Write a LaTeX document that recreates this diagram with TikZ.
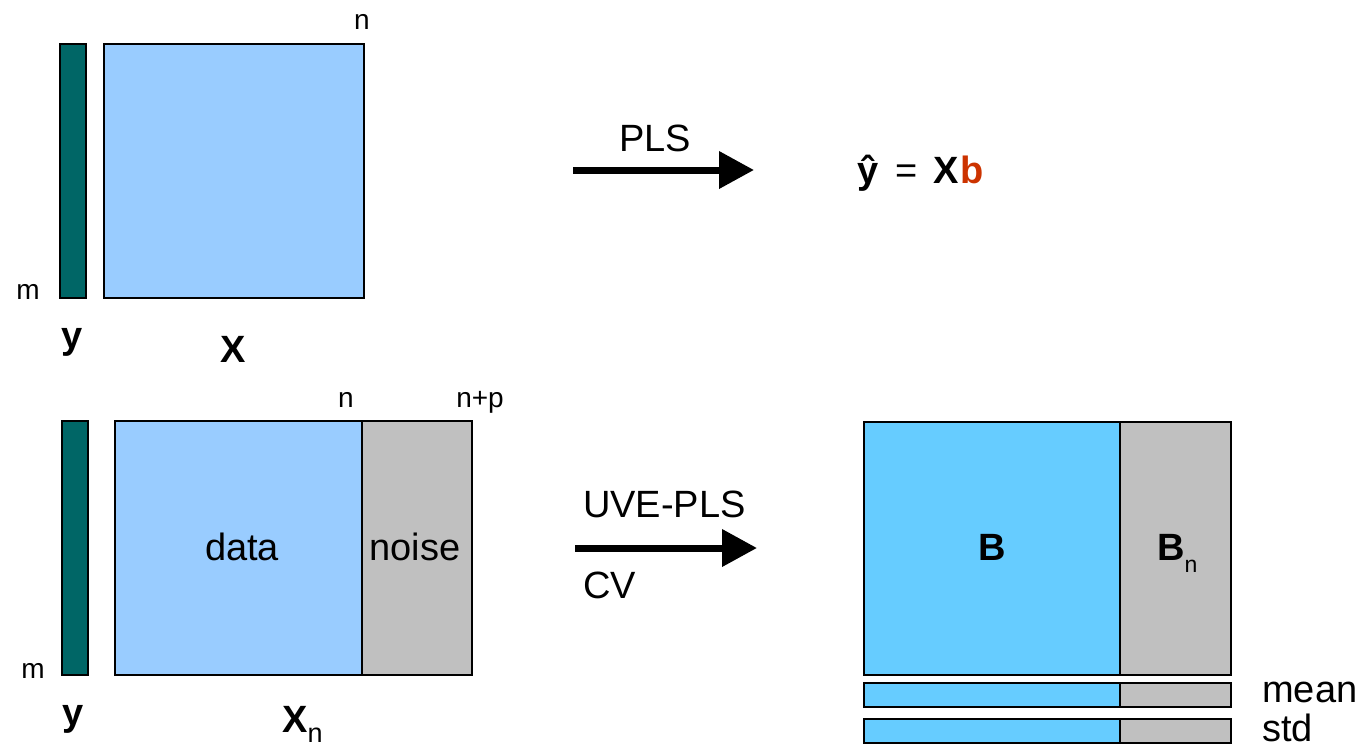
\documentclass[tikz,border=0pt]{standalone}
\usepackage{fontspec}
\setmainfont{Liberation Sans}
\usetikzlibrary{arrows.meta}
\definecolor{teal}{HTML}{006666}
\definecolor{lblue}{HTML}{99CCFF}
\definecolor{bblue}{HTML}{66CCFF}
\definecolor{lgray}{HTML}{C0C0C0}
\definecolor{eqred}{HTML}{CC3300}
\newcommand{\fsmall}{\fontsize{28}{32}\selectfont}
\newcommand{\fbig}{\fontsize{38}{44}\selectfont}
\tikzset{
  mat/.style={draw=black, line width=1.5pt, inner sep=0pt, anchor=north west},
  lbl/.style={inner sep=0pt, anchor=base},
  lblw/.style={inner sep=0pt, anchor=base west},
  bigarrow/.style={line width=7pt, -{Triangle[length=35pt,width=36pt]}}
}
\begin{document}
\begin{tikzpicture}[x=1pt,y=-1pt]
\useasboundingbox (0,0) rectangle (1359,747);
% ---- top ----
\node[mat, fill=teal, minimum width=26pt, minimum height=254pt] (y1) at (59,43) {};
\node[mat, fill=lblue, minimum width=260pt, minimum height=254pt] (X1) at (103,43) {};
\node[lbl, font=\fsmall] (n1) at (362,29) {n};
\node[lbl, font=\fsmall] (m1) at (28,299) {m};
\node[lbl, font=\fbig\bfseries] (ylab1) at (72,348) {y};
\node[lbl, font=\fbig\bfseries] (Xlab1) at (233,362) {X};
\coordinate (a1s) at (573,170);
\coordinate (a1e) at (754,170);
\draw[bigarrow] (a1s) -- (a1e);
\node[lbl, font=\fbig] (pls) at (655,151) {PLS};
\node[lblw, font=\fbig] (eq) at (857,183) {\textbf{ŷ}\hspace{17.5pt}=\hspace{15.5pt}\textbf{X}\hspace{2pt}\textcolor{eqred}{\textbf{b}}};
% ---- bottom ----
\node[mat, fill=teal, minimum width=26pt, minimum height=254pt] (y2) at (61,420) {};
\node[mat, fill=lblue, minimum width=247pt, minimum height=254pt] (data) at (114,420) {};
\node[mat, fill=lgray, minimum width=110pt, minimum height=254pt] (noise) at (361,420) {};
\node[lbl, font=\fbig] (datal) at (242,560) {data};
\node[lbl, font=\fbig] (noisel) at (415,560) {noise};
\node[lbl, font=\fsmall] (n2) at (346,407) {n};
\node[lbl, font=\fsmall] (np2) at (480,407) {n+p};
\node[lbl, font=\fsmall] (m2) at (33,678) {m};
\node[lbl, font=\fbig\bfseries] (ylab2) at (73,725) {y};
\node[lblw, font=\fbig\bfseries] (Xlab2) at (282,732) {X\raisebox{-10pt}{\mdseries\fontsize{27}{30}\selectfont n}};
\coordinate (a2s) at (575,548);
\coordinate (a2e) at (757,548);
\draw[bigarrow] (a2s) -- (a2e);
\node[lblw, font=\fbig] (uve) at (583,517) {UVE-PLS};
\node[lblw, font=\fbig] (cv) at (583,598) {CV};
% ---- right ----
\node[mat, fill=bblue, minimum width=256pt, minimum height=253pt] (B) at (863,421) {};
\node[mat, fill=lgray, minimum width=111pt, minimum height=253pt] (Bn) at (1119,421) {};
\node[lbl, font=\fbig\bfseries] (Bl) at (992,560) {B};
\node[lblw, font=\fbig\bfseries] (Bnl) at (1157,560) {B\raisebox{-12pt}{\mdseries\fontsize{23}{26}\selectfont n}};
\node[mat, fill=bblue, minimum width=256pt, minimum height=24pt] (meanB) at (863,682) {};
\node[mat, fill=lgray, minimum width=111pt, minimum height=24pt] (meanN) at (1119,682) {};
\node[mat, fill=bblue, minimum width=256pt, minimum height=24pt] (stdB) at (863,718) {};
\node[mat, fill=lgray, minimum width=111pt, minimum height=24pt] (stdN) at (1119,718) {};
\node[lblw, font=\fbig] (meanl) at (1262,702) {mean};
\node[lblw, font=\fbig] (stdl) at (1262,741) {std};
\end{tikzpicture}
\end{document}
